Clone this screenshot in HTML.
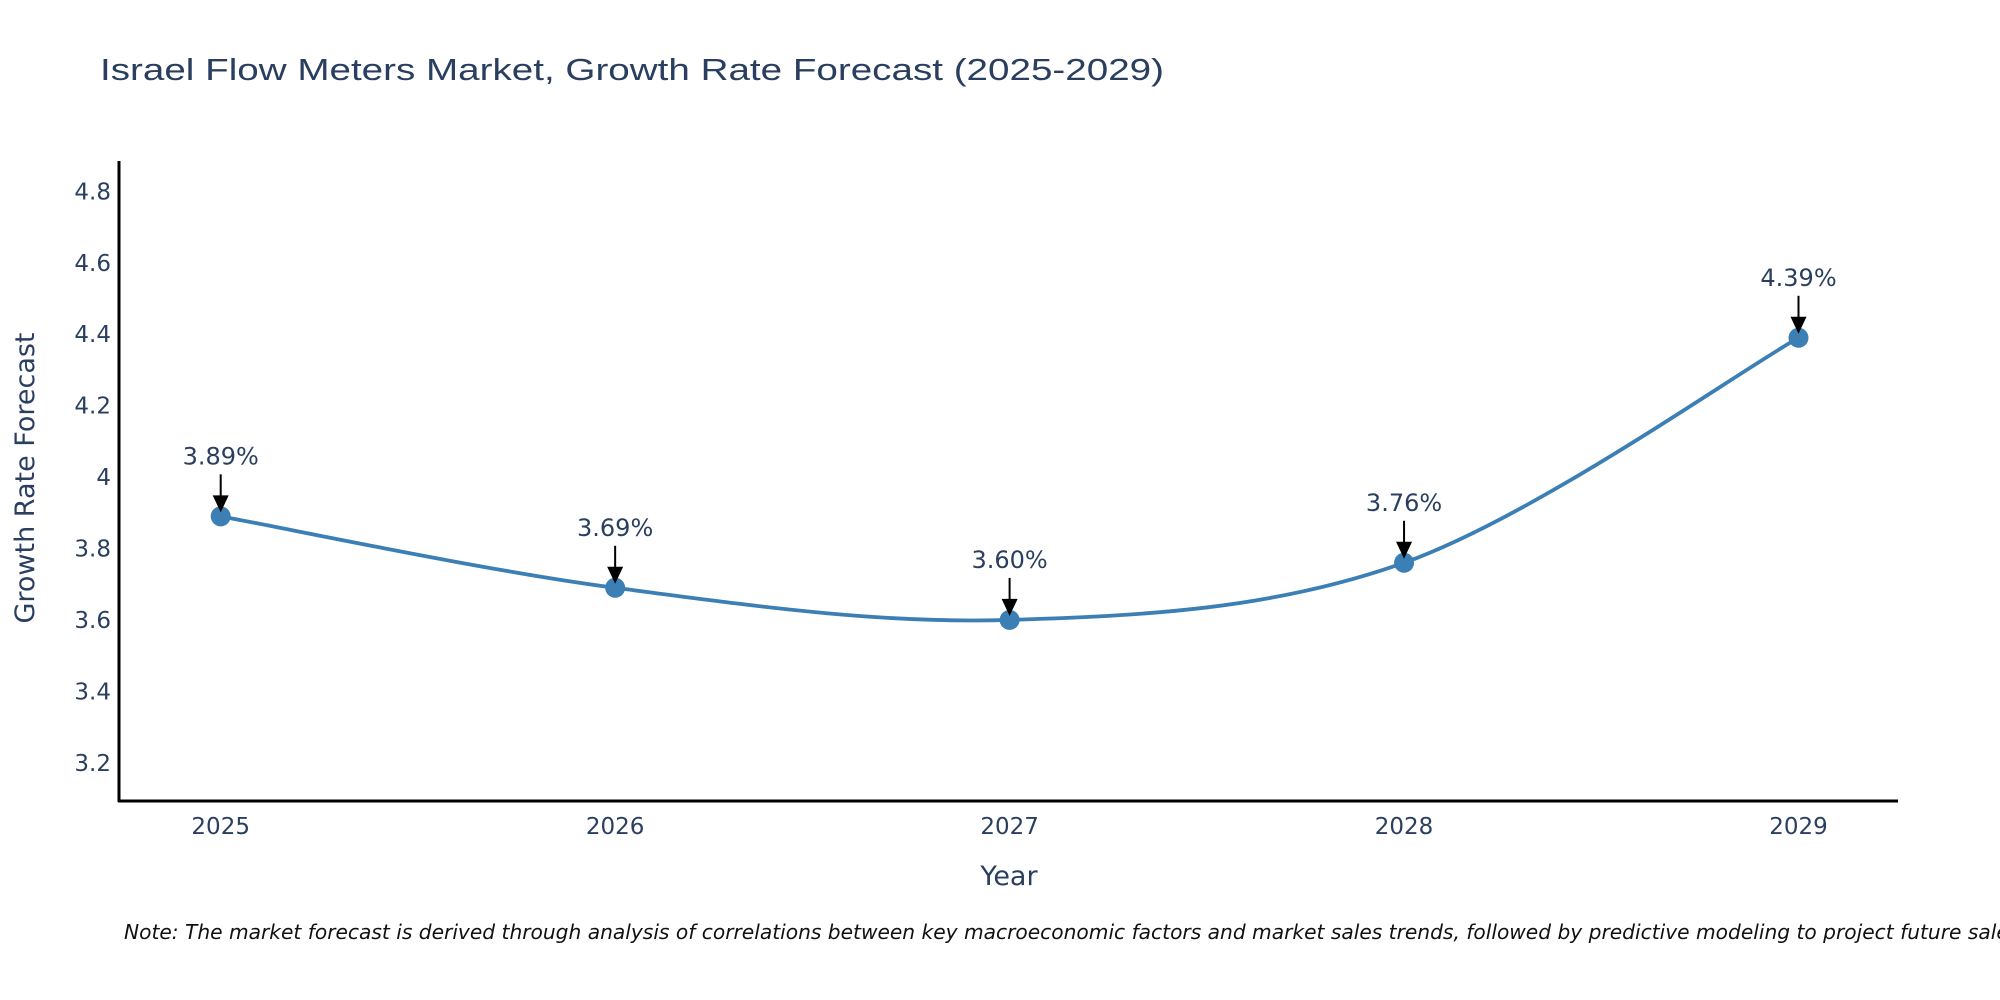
<!DOCTYPE html>
<html><head><meta charset="utf-8"><style>
html,body{margin:0;padding:0;background:#fff;}
svg{display:block;font-family:"DejaVu Sans","Liberation Sans",sans-serif;}
</style></head><body>
<svg id="chart" width="2000" height="1000" viewBox="0 0 2000 1000" xmlns="http://www.w3.org/2000/svg">
<rect width="2000" height="1000" fill="#fff"/>
<text x="100" y="80" font-size="31" fill="#2a3f5f" textLength="1064" lengthAdjust="spacingAndGlyphs" font-family="Liberation Sans, sans-serif">Israel Flow Meters Market, Growth Rate Forecast (2025-2029)</text>
<g id="yticks"></g>
<g id="xticks"></g>
<line x1="119" y1="161" x2="119" y2="802" stroke="#000" stroke-width="3"/>
<line x1="118" y1="801" x2="1898" y2="801" stroke="#000" stroke-width="3"/>
<g id="series"></g>
<g id="annots"></g>
<text x="1009" y="885" font-size="27" fill="#2a3f5f" text-anchor="middle">Year</text>
<text transform="translate(34,478) rotate(-90)" font-size="27" fill="#2a3f5f" text-anchor="middle">Growth Rate Forecast</text>
<text x="124" y="939" font-size="20.2" font-style="italic" fill="#111">Note: The market forecast is derived through analysis of correlations between key macroeconomic factors and market sales trends, followed by predictive modeling to project future sales.</text>
</svg>
<script>
const categories = ["2025","2026","2027","2028","2029"];
const values = [3.89, 3.69, 3.60, 3.76, 4.39];
const labels = ["3.89%","3.69%","3.60%","3.76%","4.39%"];
const yTicks = [3.2, 3.4, 3.6, 3.8, 4, 4.2, 4.4, 4.6, 4.8];
const yTickLabels = ["3.2","3.4","3.6","3.8","4","4.2","4.4","4.6","4.8"];

const NS = "http://www.w3.org/2000/svg";
const Y0 = 3.093, Y1 = 4.885, PT = 161, PB = 801;
function yScale(v){ return PB - (v - Y0) / (Y1 - Y0) * (PB - PT); }
function xScale(i){ return 220.7 + i * (1798.5 - 220.7) / (categories.length - 1); }
function mk(tag, attrs, parent){ const e = document.createElementNS(NS, tag); for (const k in attrs) e.setAttribute(k, attrs[k]); parent.appendChild(e); return e; }

const yg = document.getElementById('yticks');
yTicks.forEach((t, i) => {
  const el = mk('text', {x: 111, y: yScale(t) + 8, 'font-size': 23, fill: '#2a3f5f', 'text-anchor': 'end'}, yg);
  
  
  el.textContent = yTickLabels[i];
});
const xg = document.getElementById('xticks');
categories.forEach((c, i) => {
  const el = mk('text', {x: xScale(i), y: 834, 'font-size': 23, fill: '#2a3f5f', 'text-anchor': 'middle'}, xg);
  
  
  el.textContent = c;
});

const pts = values.map((v, i) => [xScale(i), yScale(v)]);
let d = 'M' + pts[0][0] + ',' + pts[0][1];
const s = 1/6;
for (let i = 0; i < pts.length - 1; i++) {
  const p0 = pts[Math.max(i-1,0)], p1 = pts[i], p2 = pts[i+1], p3 = pts[Math.min(i+2,pts.length-1)];
  const c1 = [p1[0] + (p2[0]-p0[0])*s, p1[1] + (p2[1]-p0[1])*s];
  const c2 = [p2[0] - (p3[0]-p1[0])*s, p2[1] - (p3[1]-p1[1])*s];
  d += ' C' + c1 + ' ' + c2 + ' ' + p2;
}
const sg = document.getElementById('series');
const line = mk('path', {d: d, fill: 'none', stroke: '#3c7fb4', 'stroke-width': 3.8}, sg);


pts.forEach(p => {
  const c = mk('circle', {cx: p[0], cy: p[1], r: 10, fill: '#3c7fb4'}, sg);
  
  
});

const ag = document.getElementById('annots');
pts.forEach((p, i) => {
  const x = p[0], y = p[1];
  const ln = mk('line', {x1: x, y1: y - 42, x2: x, y2: y - 18, stroke: '#000', 'stroke-width': 2}, ag);
  
  
  const hd = mk('polygon', {points: (x-8)+','+(y-21)+' '+(x+8)+','+(y-21)+' '+x+','+(y-4), fill: '#000'}, ag);
  
  
  const t = mk('text', {x: x, y: y - 52, 'font-size': 24, fill: '#2a3f5f', 'text-anchor': 'middle'}, ag);
  
  
  t.textContent = labels[i];
});
</script>
</body></html>
